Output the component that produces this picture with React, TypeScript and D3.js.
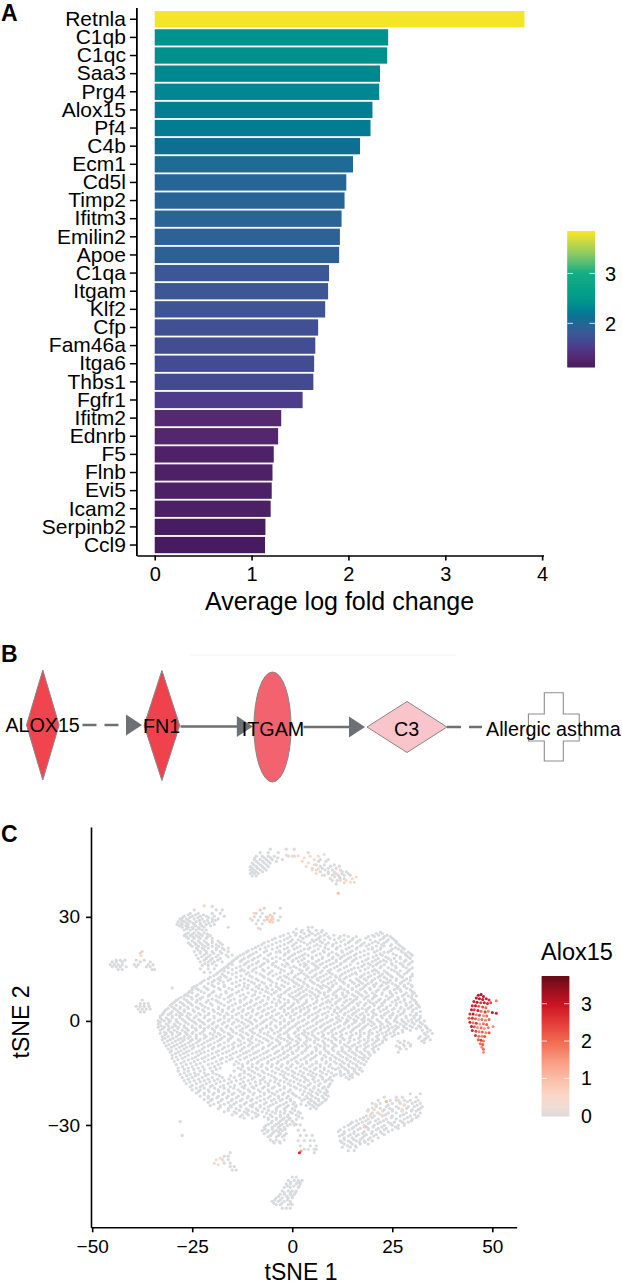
import React, { useEffect, useRef } from 'react';
import * as d3 from 'd3';

const WIDTH = 622;
const HEIGHT = 1285;
const FONT = '"Liberation Sans", Arial, sans-serif';

// panel A
const genes = ['Retnla', 'C1qb', 'C1qc', 'Saa3', 'Prg4', 'Alox15', 'Pf4', 'C4b', 'Ecm1', 'Cd5l', 'Timp2', 'Ifitm3', 'Emilin2', 'Apoe', 'C1qa', 'Itgam', 'Klf2', 'Cfp', 'Fam46a', 'Itga6', 'Thbs1', 'Fgfr1', 'Ifitm2', 'Ednrb', 'F5', 'Flnb', 'Evi5', 'Icam2', 'Serpinb2', 'Ccl9'];
const foldChange = [3.817, 2.41, 2.4, 2.326, 2.318, 2.248, 2.228, 2.12, 2.047, 1.978, 1.96, 1.929, 1.912, 1.904, 1.8, 1.79, 1.76, 1.687, 1.658, 1.646, 1.638, 1.527, 1.306, 1.274, 1.229, 1.216, 1.208, 1.197, 1.143, 1.139];
const fcTicks = [0, 1, 2, 3, 4];
const fcLegendTicks = [2, 3];
const fcColorDomain = [1.12, 1.3, 1.55, 1.65, 1.8, 1.9, 2.05, 2.12, 2.25, 2.4, 2.6, 3, 3.4, 3.85];
const fcColorRange = ['#461a5e', '#55286f', '#4c3e8e', '#434c92', '#3c5796', '#2d6196', '#1d6b96', '#0f6f92', '#007f93', '#00918f', '#03a08a', '#14ad84', '#8ecb62', '#fde725'];

// panel B
const pathwayNames = ['ALOX15', 'FN1', 'ITGAM', 'C3', 'Allergic asthma'];

// panel C, grey cells: [tSNE 2, tSNE 1, tSNE 1, ...] read row by row
const mainRows: number[][] = [
  [27, 4, 5],
  [26.1, 2.5, 4, 6, 7.5],
  [25.2, -1, 1, 3, 5, 6.5, 8.5, 21, 22.5],
  [24.3, -3, -0.5, 2, 3.5, 7, 9, 12, 14, 16, 19, 20.5, 23, 24.5],
  [23.4, -5, -2, 0, 1.5, 5, 6, 8, 10.5, 13, 15, 17, 19.5, 22, 24, 25.5],
  [22.5, -7, -4, -1, 1, 3, 4.5, 7.5, 9, 11, 14, 16, 18, 20, 21.5, 23, 26],
  [21.6, -8.5, -6, -3, 0, 2, 5.5, 7, 10, 12, 15, 17, 18.5, 21, 23, 24.5, 27],
  [20.7, -10, -8, -5, -2, 0.5, 3, 4, 6.5, 9, 11, 13.5, 16, 19, 20, 22, 25, 26.5, 28],
  [19.8, -11.5, -9, -7, -4, -3, -1, 1.5, 5, 8, 10, 12.5, 14.5, 17, 20.5, 23, 24, 27.5, 29],
  [18.9, -13, -10.5, -8, -6, -2, 0, 2.5, 4, 6, 9, 11.5, 13, 15.5, 18, 21, 22.5, 26, 28.5, 30],
  [18, -14, -12, -9.5, -7, -5, -3, -1, 1, 3, 5, 7.5, 10, 12, 14, 16, 19, 21.5, 24, 25.5, 27, 29.5],
  [17.1, -15, -13, -11, -8.5, -6, -4, 0, 1.5, 4, 6, 8.5, 11, 13, 15, 17.5, 20, 22, 23.5, 26, 28, 30],
  [16.2, -16, -15, -12, -10, -7.5, -5, -2.5, -1, 2, 3.5, 5.5, 7, 9.5, 12, 14.5, 18, 19.5, 21, 23, 25, 27.5, 29],
  [15.3, -17, -16, -14, -11, -9, -6, -3.5, -0.5, 1, 4, 6.5, 8, 10.5, 13, 15.5, 16.5, 19, 22, 24, 26, 28.5, 30],
  [14.4, -18, -17, -13, -12, -10, -7, -5, -2, 0, 2.5, 5, 7.5, 9, 11.5, 14, 17, 20, 21, 23, 25.5, 27, 29],
  [13.5, -19, -17.5, -15, -11.5, -8, -6, -4, -1, 1.5, 3, 6, 8.5, 10, 12.5, 15, 16, 18, 20.5, 22.5, 24, 26.5, 28, 30],
  [12.6, -20.5, -18, -16.5, -14, -10, -7, -3, -1.5, 0.5, 4, 5, 7, 9.5, 11, 13.5, 17, 19, 21.5, 23, 25, 27.5, 29.5],
  [11.7, -22, -19.5, -18, -16, -13, -11, -8.5, -5.5, -2.5, 0, 2, 4.5, 6.5, 8, 10.5, 12, 14.5, 16.5, 18.5, 20, 22, 24.5, 26, 28, 29.5],
  [10.8, -23, -21, -18.5, -15, -12, -9.5, -7, -4, -1, 1, 3, 5.5, 9, 11, 13, 15.5, 17.5, 19, 21, 23.5, 25, 27, 29],
  [9.9, -24.5, -22, -19.5, -17, -14, -12, -9, -6.5, -4, -2, 0.5, 2.5, 4, 7, 8.5, 10, 12, 14, 16, 18, 20.5, 22, 24, 26.5, 28, 30],
  [9, -25, -23.5, -21, -18, -15, -12.5, -10, -7.5, -5, -3, -1, 1.5, 3.5, 6, 9.5, 11.5, 13, 15, 17, 19.5, 21.5, 23, 25.5, 27, 29.5],
  [8.1, -26, -25, -22, -20, -16.5, -14, -11, -8, -6, -4.5, -2, 0, 2, 5, 7, 8, 10.5, 12.5, 14, 16.5, 18.5, 20, 22.5, 24.5, 26, 28.5, 30.5],
  [7.2, -27, -26, -24, -21, -19, -15.5, -13, -10, -7, -3.5, -0.5, 1, 3, 4.5, 6.5, 9, 11, 13.5, 15.5, 17.5, 19, 21, 23.5, 25, 27.5, 29, 31],
  [6.3, -28.5, -27, -25, -23, -20, -17, -14.5, -12, -9, -6, -4.5, -2, 0.5, 2, 5, 7.5, 10, 12, 14.5, 16, 18, 20, 22, 24, 26.5, 28, 30],
  [5.4, -29.5, -28, -26, -24, -21.5, -18.5, -16, -13, -10.5, -8, -5, -3, -1, 1.5, 3.5, 6, 8.5, 9.5, 11, 13, 15, 17, 19.5, 21, 23, 25, 27, 29.5, 31],
  [4.5, -30.5, -29, -27, -25, -22.5, -20, -17, -15, -12, -9.5, -7, -4, -2, 0, 2.5, 4.5, 7, 10, 12.5, 14, 16.5, 18, 20.5, 22.5, 24.5, 26, 28.5, 30, 31.5],
  [3.6, -31, -29.5, -28, -26, -23.5, -21, -18.5, -16, -13.5, -11, -8.5, -6, -3, -1, 1, 3, 5.5, 8, 9.5, 11.5, 13, 15.5, 17.5, 19, 21.5, 23.5, 25.5, 27, 29, 31],
  [2.7, -32, -30, -28.5, -27, -24.5, -22, -19.5, -17.5, -15, -12.5, -10, -7.5, -5, -2, 0, 2, 4, 6.5, 9, 10.5, 12, 14, 16, 18.5, 20, 22, 24, 26.5, 28, 30, 32],
  [1.8, -32.5, -31, -29, -27.5, -25.5, -23, -21, -18, -16, -14, -11.5, -9, -6.5, -4, -1.5, 0.5, 3, 5, 7.5, 10, 13, 15, 17, 19, 21, 23, 25, 27, 29.5, 31],
  [0.9, -33, -31.5, -30, -28, -26, -24.5, -22, -19.5, -17, -15, -12.5, -10.5, -8, -5.5, -3, -0.5, 1.5, 4, 6, 8.5, 11, 12.5, 14.5, 16.5, 18, 20, 22.5, 24.5, 26, 28.5, 30.5, 32],
  [0, -33.5, -32, -30.5, -29, -27, -25, -23, -21, -18.5, -16, -13.5, -11, -9, -7, -4, -2, 0, 2.5, 5, 7, 9.5, 12, 14, 16, 18, 19.5, 21.5, 23.5, 25.5, 27.5, 29, 31, 33],
  [-0.9, -33.5, -31.5, -29.5, -28, -26, -24, -22, -20, -17.5, -15, -12, -10, -8, -5.5, -3, -1, 1, 3.5, 6, 8, 10.5, 13, 15, 17, 19, 20.5, 22.5, 24.5, 27, 28.5, 30.5, 32.5],
  [-1.8, -33.5, -32, -30, -28.5, -27, -25, -23, -21, -19, -16.5, -14, -11.5, -9, -6.5, -4, -2, 0, 2, 4.5, 7, 9, 11.5, 14, 16, 18, 21, 23, 25, 26.5, 28, 30, 32, 33.5],
  [-2.7, -33, -31, -29.5, -27.5, -26, -24, -22, -19.5, -17.5, -15, -13, -10.5, -8, -5, -3, -1, 1.5, 3, 5.5, 8, 10, 12.5, 15, 17, 19.5, 22, 24, 25.5, 27.5, 29.5, 32.5, 34.5],
  [-3.6, -33, -31.5, -30, -28, -26.5, -25, -23, -20.5, -18.5, -16, -14, -11.5, -9.5, -7, -4.5, -2, 0.5, 2.5, 4, 6.5, 9, 11, 13.5, 16, 18, 20, 22.5, 24.5, 26.5, 33, 35],
  [-4.5, -32.5, -31, -29, -27, -25.5, -24, -21.5, -19, -17, -15, -12.5, -10, -8, -5.5, -3.5, -1, 1, 3.5, 5.5, 7.5, 10, 12, 14.5, 17, 19, 21, 23, 25, 32, 34],
  [-5.4, -32.5, -30.5, -28.5, -27, -25, -23, -20.5, -18, -16, -13.5, -11, -9, -6.5, -4, -2, 0, 2, 4.5, 6.5, 9, 11, 13, 15.5, 18, 20, 21.5, 23.5, 33, 34.5],
  [-6.3, -32, -30, -28, -26, -24, -22, -19.5, -17, -14.5, -12, -10, -7.5, -5, -3, -0.5, 1.5, 3, 5.5, 8, 10, 12, 14, 16.5, 18.5, 20.5, 22.5, 27, 29, 33],
  [-7.2, -31.5, -29.5, -27.5, -25.5, -23.5, -21, -18.5, -16, -13.5, -11, -9, -6, -4, -1.5, 0.5, 2.5, 4.5, 7, 9, 11, 13.5, 15, 17, 19, 21, 26, 28, 29.5],
  [-8.1, -31, -29, -27, -25, -22.5, -20, -17.5, -15, -12.5, -10, -7.5, -5, -2.5, -0.5, 1.5, 3.5, 6, 8, 10, 12.5, 14.5, 16, 18, 20, 21.5, 27, 28.5],
  [-9, -30.5, -28.5, -26.5, -24, -22, -19, -16.5, -14, -11.5, -9, -6.5, -4, -2, 0, 2.5, 5, 7, 9, 11.5, 13, 15, 17, 19, 20.5, 26.5],
  [-9.9, -30, -28, -26, -23.5, -21, -18.5, -15.5, -13, -10.5, -8, -5.5, -3, -1, 1.5, 4, 6, 8, 10, 12, 14, 16, 18, 19.5],
  [-10.8, -30, -27.5, -25, -22.5, -20, -17.5, -15, -12, -9.5, -7, -4.5, -2, 0.5, 3, 5, 7.5, 9.5, 11, 13.5, 15.5, 17.5, 19],
  [-11.7, -29.5, -27, -24.5, -22, -19, -16.5, -14, -11, -8.5, -6, -3.5, -1, 1, 3.5, 6, 8.5, 10.5, 12.5, 14.5, 16.5, 18.5],
  [-12.6, -29, -26.5, -24, -21, -18.5, -14.5, -12.5, -10, -7.5, -5, -2.5, 0, 2.5, 5, 7, 9.5, 12, 14, 16, 18],
  [-13.6, -28.5, -26, -23.5, -20.5, -18, -13.5, -11, -9, -6.5, -4, -1.5, 1, 3, 6, 8, 10, 11.5, 13, 15, 17],
  [-14.5, -28.5, -26, -23, -20, -14.5, -12, -10, -7.5, -5, -2.5, 0, 2, 4.5, 7, 9, 12, 14, 15.5, 17.5],
  [-15.4, -28, -25.5, -23.5, -21, -19, -13, -11, -8.5, -6, -3, -1, 1.5, 4, 6, 8.5, 11, 13, 15, 16.5],
  [-16.3, -27.5, -25, -22.5, -20, -17.5, -14.5, -12, -9.5, -7, -4.5, -2, 0.5, 3, 5.5, 7.5, 9.5, 13.5, 15],
  [-17.2, -27, -24.5, -22, -19.5, -17, -14, -11, -8, -5.5, -3, -0.5, 2, 4, 6.5, 8.5, 10],
  [-18.1, -26.5, -24, -21.5, -19, -16, -13, -10.5, -8, -6, -3.5, -1, 1.5, 4.5, 7, 9.5],
  [-19, -25.5, -23, -20.5, -18, -15.5, -12.5, -10, -7, -4.5, -2, 0.5, 3, 5.5, 8, 9],
  [-19.9, -25, -23, -21, -18.5, -16, -13.5, -11, -8.5, -6, -3, -0.5, 2, 4.5, 6.5, 8.5],
  [-20.8, -24, -22, -19.5, -17, -14.5, -12, -9.5, -7, -5, -2, 0, 4, 6, 8],
  [-21.7, -23, -21, -18.5, -16, -13.5, -11, -8, -5.5, -3.5, -1, 1, 3.5, 5, 7.5, 9],
  [-22.6, -22, -20, -17.5, -15, -12.5, -10, -7, -4.5, -2.5, -0.5, 3, 4.5, 6.5, 8.5],
  [-23.5, -21, -18.5, -16, -14, -11.5, -9, -6.5, -4, -1.5, 0.5, 4, 5.5, 7.5],
  [-24.4, -20.5, -18, -15.5, -13, -10.5, -8, -5.5, -3, -1, 1, 3.5, 5, 6.5],
  [-25.3, -18.5, -16, -14, -11.5, -9, -7, -4, -2, 0, 4.5, 6],
  [-26.2, -17, -14.5, -12, -10, -7.5, -5, -3, -0.5, 1.5],
  [-27.1, -15, -12.5, -11, -8.5, -5.5, -3, -1, 1],
  [-28, -12, -10, -6, -4, -2, -0.5, 2.5],
  [-28.9, -5, -3, -1.5, 0],
  [-29.8, -6, -4, -2.5, -0.5, 1],
  [-30.7, -7, -5, -3.5, -2],
  [-31.6, -7.5, -6, -4, -2.5],
  [-32.5, -7, -5, -3, -1.5],
  [-33.4, -6, -4, -2.5],
  [-34.3, -5.5, -4, -2],
  [-35.2, -4.5, -3],
];

// second pass over the same blob, cells lying between the rows above
const mainRowsFill: number[][] = [
  [25.6, 0.3, 2.2, 4.4, 7.3, 22],
  [24.7, -2.2, 0.8, 4.2, 5.8, 8, 10.4, 13, 20, 21.6, 23.7],
  [23.8, -4.3, -1.2, 2.7, 6.6, 9.4, 11.6, 15.2, 18.4, 22.7, 25],
  [22.9, -6, -3, -0.4, 2.2, 5.4, 7, 12.2, 14.4, 16.4, 20.8, 23.6, 26],
  [22, -7.6, -5, -2, 0.4, 3.8, 6.2, 8.4, 10.2, 13.2, 17.4, 19.2, 22.4, 24.8, 26.6],
  [21.1, -9.2, -6.8, -3.8, -1.2, 1.2, 4.4, 8.2, 11.2, 14.2, 16.2, 20, 22.2, 25.8, 27.6],
  [20.2, -11, -6.4, -3.2, -0.8, 2.2, 5.6, 7.8, 12.4, 15, 18, 21.2, 24.6, 27.2],
  [19.3, -12.2, -9.8, -5.4, -1.8, 0.6, 3.2, 7, 9.2, 11, 13.8, 16, 19, 22, 25.2, 28.2, 29.6],
  [18.4, -13.6, -11, -8.6, -4, -0.6, 1.8, 5, 7.6, 10.2, 12.4, 14.6, 17, 20.2, 23.4, 27, 29],
  [17.5, -14.6, -12.6, -10, -6.2, -2, 0.2, 2.4, 6.6, 9.2, 11, 13.4, 15.4, 18.4, 20.8, 22.8, 24.6, 28.4],
  [16.6, -15.6, -11.6, -9, -7, -4.8, -1.4, 3, 5, 7.6, 10.2, 12.2, 16.4, 19, 21.4, 24.8, 27, 29.4],
  [15.7, -16.4, -13, -10.8, -8, -4.2, -1.8, 0.4, 3, 6, 8.6, 11.2, 13.6, 17.4, 20.2, 22.2, 25.8, 27.8],
  [14.8, -17.6, -15, -12.6, -9.6, -7.4, -2.8, 1.8, 3.6, 5.8, 9.6, 12, 14.8, 18.2, 20.6, 24.8, 29.4],
  [13.9, -18.6, -16, -14, -11, -9, -5.6, -3, -0.2, 2.2, 4.4, 7, 9.4, 13.2, 15.8, 19, 21.6, 23.6, 26.2, 28.6],
  [13, -19.6, -17, -12.8, -10.6, -7.4, -4.8, -2, 0.8, 3.6, 5.6, 7.8, 10.8, 12, 14.4, 17.4, 19.6, 22, 24.6, 27, 30],
  [12.1, -21, -18.6, -15.4, -12, -9, -6, -3.6, -0.8, 1.4, 3.2, 6.2, 8.8, 11.8, 13, 16, 18, 20.6, 23.6, 26, 28.6],
  [11.2, -22.6, -20, -17.2, -14, -10.2, -7.6, -5, -1.8, 0.4, 2.8, 5, 7.4, 9.8, 12.6, 15, 17, 19.8, 22.8, 24, 27.4],
  [10.3, -23.8, -20, -17, -13.2, -11, -8.2, -5.4, -2.6, 1.6, 3.8, 6.4, 7.8, 10.2, 14, 16.6, 18.4, 20.4, 22.4, 25.8, 28, 29.8],
  [9.4, -24, -21.4, -18.4, -15.8, -11.2, -8.4, -6.2, -3.4, -0.6, 2.2, 5, 7.4, 9.2, 12.2, 15, 17.6, 19.4, 23.6, 26.2, 28.6],
  [8.5, -25.6, -22.8, -19.6, -16.6, -13.4, -9.2, -6.6, -4, -1.6, 0.8, 2.8, 4.4, 6.6, 9, 11, 13.8, 16, 18.2, 21, 24.4, 27.2, 30],
  [7.6, -26.6, -23.6, -20.6, -17.8, -15, -12.2, -9.4, -5.2, -2.8, -0.8, 1.6, 3.6, 5.6, 8, 10.2, 12.6, 15, 17, 20.6, 22.4, 25, 28, 30],
  [6.8, -27.8, -25.2, -22.4, -18.2, -16, -11.6, -8.4, -6, -3, 0.2, 2.4, 6, 8.4, 11, 13, 16.2, 18.4, 20.4, 24.4, 26.4, 29.8],
  [5.9, -29, -26.4, -23.8, -21, -19, -15.4, -13, -10.2, -7.4, -3.4, -1, 1.2, 3.6, 6.2, 9, 11.6, 13.6, 15.4, 19, 21.6, 23.2, 25.8, 28, 30.6],
  [5, -30, -27.4, -25.4, -23, -20.4, -17.8, -14.2, -11.4, -9, -6.4, -4, -1.8, 0.4, 3, 5.4, 7.6, 10.8, 14.4, 16.2, 18.4, 20.2, 22.4, 26, 28.4, 31],
  [4, -30, -28, -26.2, -24, -21.8, -18.4, -15.8, -13, -10.4, -8, -5.2, -2.6, -0.4, 1.8, 3.8, 6, 8.8, 11.2, 13.4, 15.4, 19.4, 21.8, 23.6, 27.2, 29.6, 31.8],
  [3.2, -31.6, -29, -27, -24.8, -22.4, -19.8, -17.4, -14.6, -12.2, -9.8, -7, -4.4, -2, 0.2, 2.2, 4.2, 7, 10.6, 12.4, 14.8, 16.6, 18.4, 20.4, 22.8, 25, 28, 30.2],
  [2.2, -32.2, -30.4, -28, -26, -23.4, -20.8, -18.6, -16.4, -13.4, -11, -8.6, -6, -3.4, -1, 1, 3.4, 5.8, 8.2, 11.2, 13.2, 15.4, 17.6, 20.4, 23.4, 25.2, 27.6, 31],
  [1.4, -33, -30, -28.2, -26.4, -24, -21.8, -19.6, -17, -15, -12.6, -10.2, -7.6, -5, -2.6, -0.4, 2, 4.2, 6.4, 8.8, 11.6, 14, 16, 18, 20.2, 22.2, 24.4, 26.2, 28.4, 30.4, 32],
  [0.4, -32.6, -31, -29, -27.4, -25.6, -23.4, -20.6, -18, -15.8, -14, -11.6, -9.4, -6.4, -4.6, -2, 0.4, 3, 5.4, 7.6, 10, 11.6, 13.6, 15.4, 17.4, 19, 21.2, 23.6, 25.8, 27.4, 29.8, 31.6],
  [-0.4, -33, -30.8, -28.6, -26.6, -24.4, -22.4, -19.6, -17, -14.6, -12.6, -10.4, -7.4, -5.2, -3, -0.8, 1.6, 4, 6.2, 8.8, 11.2, 13.4, 15.6, 17.8, 20, 22, 24, 26.2, 28, 30, 32],
  [-1.4, -32.8, -31, -29.2, -27, -25, -23, -20.8, -18.6, -16.2, -13.2, -11, -8.8, -6.4, -4.2, -1.8, 0.6, 2.8, 5.2, 7.4, 9.6, 12, 14.2, 16.6, 18.4, 19.8, 22, 23.8, 25.8, 27.8, 29.4, 31.6, 33.2],
  [-2.2, -32.4, -30.8, -28.6, -26.4, -24.2, -22, -20, -17.8, -15.4, -12.4, -9.8, -7.4, -5.4, -2.8, -0.6, 1.4, 3.8, 6, 8.4, 10.6, 13, 15.4, 17.6, 20.4, 22.2, 24.2, 26, 28.6, 31, 33.8],
  [-3.2, -32, -30.4, -28.8, -26.8, -24.8, -22.4, -19.4, -17, -14.8, -12.4, -10, -8, -6, -3.6, -1.4, 0.8, 3.2, 5, 7.4, 9.8, 12, 14.6, 17, 19.2, 21.2, 23.4, 25.4, 27.6, 33.8],
  [-4, -31.8, -30, -28.4, -26.2, -24, -22, -19.8, -18, -15.6, -13, -11, -8.6, -6.2, -3, -1, 1.6, 3, 5, 7.8, 10.2, 12.4, 15, 17, 19.2, 21.6, 23.6, 25.6, 33.4],
  [-5, -31.8, -29.8, -27.8, -26, -24, -22, -19.8, -17.6, -15.4, -12.2, -10.2, -7.2, -5, -2.8, -0.6, 1.6, 3.8, 6, 8.2, 10.6, 12.6, 14.4, 16.6, 19, 21.4, 23, 31.6, 33.4],
  [-5.8, -31.2, -29.2, -27.4, -25.4, -23.4, -21.2, -18.6, -16, -13, -10.6, -8.2, -6, -3.6, -1.2, 1, 3.6, 5.6, 7.6, 9.8, 12, 14.4, 17, 19, 21, 22.6, 26.4, 28, 32.4],
  [-6.8, -30.8, -28.8, -26.8, -24.8, -22.6, -20.4, -18, -15, -12.8, -10.6, -8.4, -5.6, -3.2, -1, 1.2, 3.4, 6.4, 8.2, 10.6, 13, 15.6, 18, 20, 21.8, 27.8, 29.6],
  [-7.6, -30.2, -28.2, -26.4, -24.6, -22, -19.6, -17, -14.6, -12, -9.8, -7.2, -4.6, -2.4, -0.4, 1.6, 3.8, 5.8, 8, 10.2, 12.4, 14.2, 16.2, 18.4, 20.4, 26.8],
  [-8.6, -30.2, -27.8, -25.8, -23.2, -21, -18.4, -15.8, -13, -10.8, -8.4, -6, -3.4, -1.2, 1, 3.2, 6, 8.4, 10.4, 12.4, 14.2, 16.2, 18.2, 20.4],
  [-9.4, -29.2, -27.2, -25, -22.8, -20, -17.4, -14.8, -12.2, -9.6, -7.2, -4.4, -2.2, 0.2, 2.4, 4.8, 7, 9.2, 11.4, 13.4, 15.6, 17.4, 19.2],
  [-10.4, -29, -26.8, -24.2, -21.8, -19.4, -16.4, -13.6, -11.4, -8.8, -6.2, -3.6, -1.4, 1, 3.4, 5.6, 8.4, 10.6, 12.6, 14.6, 16.8, 18.2],
  [-11.2, -28.6, -26, -23.6, -21, -18, -15.6, -13, -10.2, -7.8, -5.2, -2.8, -0.2, 2.2, 4.6, 7.4, 9.6, 11.8, 13.8, 15.8, 17.8],
  [-12.2, -27.8, -25.4, -23, -20, -17.6, -13.4, -11.2, -8.8, -6.2, -3.8, -1.2, 1.4, 3.6, 6, 8.4, 11, 13, 15.2, 17.2],
  [-13.2, -27.4, -25, -22.4, -19.4, -12.4, -10, -7.8, -5.2, -2.8, -0.4, 2, 4.4, 7, 9.2, 12.4, 14.2, 16.2],
  [-14, -27, -24.6, -22, -19, -12.8, -10.8, -8.6, -6.2, -3.4, -1, 3.6, 5.6, 8, 10.8, 13.4, 15.6, 16.8],
  [-15, -27, -24.4, -22, -19.8, -12, -9.4, -7, -4.2, -1.8, 0.6, 2.8, 5.2, 7.6, 9.8, 12, 14, 16],
  [-15.8, -26.4, -24.2, -21.6, -18.2, -15.4, -13.2, -10.4, -8, -5.2, -2.2, 0, 2.4, 4.8, 7, 10.4, 12.2, 14.4],
  [-16.8, -26, -23.4, -21, -18.6, -15.8, -12.8, -10, -7.4, -4, -1.4, 1.2, 3.4, 5.2, 7.6, 9.2, 14.2],
  [-17.6, -25.6, -23, -20.6, -18, -15.2, -12.2, -9.2, -6.8, -4.4, -2, 0.4, 3, 5.6, 8.2],
  [-18.6, -25, -22.4, -20, -17.2, -14.4, -11.8, -9, -6, -3.2, -0.4, 2.2, 4, 6.6, 9.2],
  [-19.4, -24, -22, -19.4, -17, -14.6, -12, -9.6, -7.4, -5, -2, 1, 3.4, 5.4, 7.6],
  [-20.4, -23.4, -20.8, -18.4, -15.8, -13, -10.6, -8, -5.8, -3.8, -1, 3, 5, 7, 8.8],
  [-21.2, -22, -19.8, -17.4, -15, -12.4, -9.8, -7, -4.4, -2.4, 0.4, 2.6, 4.6, 6.4, 8.4],
  [-22.2, -21, -18.8, -16.4, -14, -11.2, -8.8, -6, -3.4, -1.4, 1.8, 3.8, 5.8, 7.8],
  [-23, -20.4, -17.8, -15.2, -13, -10.4, -8, -5.2, -3, -0.4, 2.4, 4.8, 6.6, 8.2],
  [-24, -19.6, -17, -14.6, -12, -9.8, -7, -4.8, -2.2, 0.2, 2.2, 4.4, 6, 7],
  [-24.8, -18, -15.2, -12.8, -10, -8, -6, -3.6, -1.4, 0.8, 5.4],
  [-25.8, -16, -13.2, -11, -8.6, -6, -4, -1.8, 0.6],
  [-26.6, -14, -11.4, -9.2, -6.4, -4.2, -2, 0, 2],
  [-27.6, -13, -9, -7, -5, -3, -1.2, 1.6],
  [-28.4, -6, -4, -2.4, -0.8, 1],
  [-29.4, -5.2, -3.4, -1.6, 0.4],
  [-30.2, -6.6, -4.4, -3, -1.2],
  [-31.2, -6.8, -5, -3, -1.8],
  [-32, -6.2, -4.6, -3.4],
  [-33, -5.4, -3.4, -2],
  [-34.8, -4.8, -3.2],
];

const upperLeftRows: number[][] = [
  [33, -20],
  [32, -24.5, -19, -17.5],
  [31, -25.5, -23.5, -20, -18],
  [30.2, -27, -25, -23, -21.5, -19.5, -17],
  [29.4, -28, -26.5, -24.5, -22.5, -20, -18.5],
  [28.6, -28.5, -27, -25.5, -24, -22, -20],
  [27.8, -28.8, -27.5, -26, -24.5, -23, -21.5, -19.5],
  [27, -27.5, -26, -25, -23.5, -22, -16],
  [26.2, -27, -25.5, -24, -22.5, -21.5],
  [25.4, -26, -24.5, -23.5, -22],
  [24.6, -27, -25.5, -24, -22.5, -20.5],
  [23.8, -26, -24.5, -23, -21.5, -20],
  [23, -25, -23.5, -22, -20, -18.5],
  [22, -25.5, -24, -22.5, -21, -19, -17.5],
  [21, -24, -22.5, -21, -19, -17.5, -16],
  [20, -24.5, -23, -21.5, -20, -18, -16],
  [19, -24, -22, -20.5, -18.5, -16.5, -15],
  [18, -23.5, -21.5, -20, -18],
  [17, -23, -21, -19.5, -17.5],
  [16, -22.5, -21, -19],
  [15, -23, -21, -19.5],
  [14, -22, -20.5],
  [30.6, -26, -24.2, -22.2],
  [29.8, -27.4, -25.6, -23.6, -21],
  [29, -27.6, -26, -23.2, -21.2, -19.2],
  [28.2, -27.8, -26.4, -24.8, -23, -20.8],
  [27.4, -28.2, -26.6, -24.2, -22.6, -20.4],
  [26.6, -26.4, -24.8, -23.2],
  [25, -26.6, -25, -23, -21.2],
  [24.2, -26.4, -24.8, -23.4, -21.2],
  [22.5, -26, -24.4, -23, -21.4, -20, -18],
  [21.5, -25, -23.4, -21.8, -20, -18.4],
  [20.5, -23.6, -22, -19, -17],
  [19.5, -23, -21.4, -19.6, -17.6],
  [18.5, -22.6, -21, -19, -16],
  [17.5, -22, -20.4, -18.6],
  [16.5, -21.8, -20],
];

const smallClusterRows: number[][] = [
  // far left groups
  [19.5, -38],
  [17.5, -44, -43, -41.8, -39, -37],
  [17, -45, -44, -42.5, -38, -35.5],
  [16.2, -45.5, -44.5, -43.5, -42.5, -39.5, -38.5, -36, -34.8],
  [15.6, -45, -44, -43, -41.5, -39, -36.5, -35.5],
  [14.8, -43.5, -42.5, -35, -34.4],
  [6, -37.5],
  [5, -38, -37, -36],
  [4.2, -39, -38, -37, -35.8],
  [3.4, -38.5, -37.5, -36.5, -35.5],
  [2.6, -38, -37],
  [9.5, -30, -25],
  [6.5, -23],
  // upper arc, left part
  [49.5, -5.5, -1.5, 0.5],
  [48.5, -8, -6, -3.5, 4],
  [47.5, -9, -7.5, -6, -4.5, -1, 0.5],
  [46.5, -9.5, -8, -6.5, -5, -2.5],
  [45.5, -10, -8.5, -7, -5.5],
  [44.5, -10.5, -9, -7.5, -6],
  [43.5, -10.5, -9.5, -8, -6.5],
  [42.5, -10.5, -9.5, -8.5],
  [41.8, -10, -9],
  [47, -9.4, -7, -5.4, -3.6],
  [46, -9, -7.4, -6, -4],
  [45, -9.6, -8, -6.4],
  [44, -10, -8.6, -7],
  [43, -10, -9, -7.4],
  // upper arc, right part
  [46.5, 7, 9],
  [45, 6, 8, 10.5],
  [44, 5, 7.5, 9, 11],
  [43, 7, 9, 10.5, 12.5, 13.5],
  [42, 8, 10, 11.5, 13, 14.5],
  [41, 9.5, 12, 13],
  [39.5, 11],
  [46, 6.6, 8.4],
  [44.6, 7, 9.6, 11.8],
  [43.5, 6, 8.2, 10, 12],
  [42.5, 9, 10.6, 12.4, 14],
  [41.5, 10.6, 11.8],
  [40.5, 10, 11.2],
  // group above the blob
  [32.5, -7, -3],
  [31, -9, -7.5, -4.5],
  [30, -9.5, -8, -6.5, -3],
  [29, -10, -8.5, -7, -3.5],
  [28, -9, -7.5],
  [26.5, -8, 1],
  // stray cells under the blob
  [-29, -28],
  [-33, -27.5],
  // group next to the stem
  [-30, 0.5, 2],
  [-31.5, 1.5, 3],
  [-33, 2, 3.5, 5],
  [-34.5, 1.5, 3, 4.5, 5.5],
  [-36, 2, 4.5, 6],
  [-37, 3, 4, 5.5, 6],
  [-38, 5.5],
  // small group lower left
  [-38, -15.5],
  [-39, -17, -16],
  [-40, -17.5, -16],
  [-41, -17, -15.5],
  [-42, -15.5, -14.5],
  [-43, -15, -14],
  // bottom cluster
  [-45, 0, 1],
  [-46, -1, 0.5, 1.5, 2.5],
  [-47, -1.5, -0.5, 1, 2],
  [-48, -2, -0.5, 1.5],
  [-49, -2.5, -1, 0, 1],
  [-50, -3, -2, -0.5, 0.5],
  [-51, -4, -2.5, -1, 0],
  [-52, -5, -3.5, -2, -0.5],
  [-53, -4, -3, -1, 0],
  [-54, -2.5, -1.5, -0.5],
  [-46.5, -0.4, 1.4, 2],
  [-47.6, -1.2, 0.4, 1.8],
  [-49.5, -2, -0.4, 0.8],
  [-50.6, -3.4, -1.4, 0],
  [-51.6, -4.4, -3, -1.2],
  [-52.6, -4.6, -2.6, -0.4],
];

const lowerClusterRows: number[][] = [
  [-21, 29.5, 32],
  [-22, 23, 26, 27.5, 31],
  [-22.9, 21.5, 24.5, 26, 28, 29.5, 31.5],
  [-23.8, 20, 22, 25, 27, 30, 32],
  [-24.7, 21, 23.5, 26, 29, 30.5, 32.5],
  [-25.6, 19, 20.5, 23, 25, 27.5, 30, 31.5],
  [-26.5, 20, 21.5, 24, 26, 28.5, 32],
  [-27.4, 18.5, 20.5, 22.5, 25, 27, 29.5, 31.5],
  [-28.3, 17, 19, 21.5, 23.5, 26, 28, 30],
  [-29.2, 15, 17.5, 19.5, 22, 24, 25.5, 27.5, 29],
  [-30.1, 14, 16, 18, 20.5, 23, 25, 26.5, 28],
  [-31, 15, 17, 19, 21.5, 23.5, 26.5],
  [-31.9, 11.5, 13, 15.5, 18, 20, 22, 24],
  [-32.8, 12.5, 14.5, 16.5, 18.5, 21, 23],
  [-33.7, 13, 15, 17.5, 19.5, 21.5],
  [-34.6, 12, 14, 16, 18, 20],
  [-35.5, 13, 15, 17, 19],
  [-36.4, 12.5, 14.5, 16],
  [-37.4, 14, 15.5],
  [-23.3, 23.6, 26.8, 28.8, 30.8],
  [-24.3, 21, 24, 28, 31.2],
  [-25.2, 22, 24.4, 26.6, 28.6, 32],
  [-26, 18.8, 22.6, 25, 27.4, 29.8, 31],
  [-27, 19.6, 23.4, 27.8, 30.6],
  [-27.9, 17.8, 20, 24.8, 28.8, 31],
  [-28.8, 16, 18.4, 20.8, 22.8, 27, 29.8],
  [-29.6, 14.6, 16.6, 19, 21.4, 24.6, 28],
  [-30.6, 13, 15.4, 18, 20.2, 22.4, 25.8],
  [-31.4, 12, 14.2, 16.4, 19, 21, 23, 25],
  [-32.4, 13, 15.4, 17.6, 19.8, 22.4],
  [-33.2, 11.8, 14, 16, 18, 20.4],
  [-34.2, 13, 15.4, 17, 19],
  [-35, 12.4, 14.6, 16.8, 18.2],
  [-36, 13.8, 15.8],
];

// panel C, expressing cells: x, y, Alox15
const pinkCells: number[][] = [
  [-6, 30, 0.7], [-5.5, 30.5, 0.8], [-5, 30, 0.8], [-6.2, 29.2, 0.9], [-5.3, 29.2, 0.8], [-4.8, 29.4, 0.7], [-5.6, 28.6, 0.8], [-4.9, 28.5, 0.7],
  [-9.5, 31, 0.7], [-8, 32, 0.9], [-10.5, 29.5, 0.6], [-8.5, 26.8, 0.7], [-22, 33.2, 0.7],
  [-1.5, 47.8, 0.5], [0, 47.5, 0.6], [1.5, 47.6, 0.5], [3, 47, 0.5], [4.5, 47.5, 0.6], [5.5, 46.5, 0.5], [6.5, 47.5, 0.5], [8, 48, 0.5],
  [2.5, 46, 0.5], [4, 45.5, 0.5], [5.5, 45, 0.6], [3.5, 44.5, 0.5], [5, 43.5, 0.5], [6.5, 43.8, 0.5], [6, 42.5, 0.6], [7.5, 42, 0.5],
  [11, 42.5, 0.5], [12, 40.5, 0.6], [13.5, 40.5, 0.5], [14.5, 40, 0.6], [15.5, 40, 0.5], [15, 41, 0.6], [16, 41.5, 0.5], [13, 39.8, 0.7], [11.5, 36.8, 1.1],
  [-37.5, 20, 0.7], [-37.8, 18.8, 0.5],
  [-19.5, -41, 0.5], [-19, -40, 0.6], [-18.5, -41.5, 0.5], [-18, -39.5, 0.5], [-17.3, -40.2, 0.5],
  [1.8, -38, 2.8], [2.2, -37.5, 1.5],
  [19, -26, 0.4], [20, -25, 0.5], [20.8, -24, 0.4], [21.2, -26.5, 0.4], [22, -27, 0.4], [19.5, -27.5, 0.5], [23.5, -23.2, 1.1], [18.5, -30.5, 0.9], [26.5, -22.8, 0.5], [28, -24, 0.4], [23, -27.2, 0.4], [27.5, -26, 0.4],
];

const aloxCells: number[][] = [
  [46.5, 7.4, 3.1], [47.2, 7.6, 3.2], [47.8, 7, 3], [46, 6.6, 3], [46.8, 6.4, 3.1], [47.6, 6.2, 3], [48.5, 6.4, 2.9], [49.2, 6, 2.7], [51, 5.8, 1.8],
  [45.4, 5.6, 2.9], [46.2, 5.4, 3], [47.1, 5.2, 2.6], [48, 5.2, 2.9], [48.8, 5, 2.8], [49.6, 5.2, 2.4],
  [45, 4.4, 2.8], [45.8, 4.4, 3], [46.6, 4.2, 2.2], [47.6, 4, 2.4], [48.4, 3.8, 2.1],
  [44.8, 3.2, 2.9], [45.5, 3.2, 2.5], [46.4, 3, 2.9], [47.2, 2.8, 2], [48.2, 2.6, 2.6], [49, 2.8, 1.8], [50, 2.4, 3], [51, 2.2, 2.9],
  [44.4, 2, 2.6], [45.2, 2, 3], [46, 1.8, 1.8], [46.8, 1.6, 2.4], [47.8, 1.5, 1.6], [48.6, 1.4, 2],
  [44.2, 0.8, 2.2], [45, 0.8, 2.7], [45.8, 0.6, 2.1], [46.6, 0.4, 1.5], [47.4, 0.4, 2], [48.3, 0.2, 1.7], [49.2, 0.4, 2.1],
  [44.4, -0.4, 2.8], [45.2, -0.5, 1.9], [46, -0.7, 2.6], [46.9, -0.9, 1.4], [47.8, -0.8, 1.9], [48.6, -1, 2.2],
  [44.8, -1.6, 2.9], [45.5, -1.7, 2.3], [46.3, -1.9, 1.6], [47.2, -2, 2], [48, -2.2, 1.5], [49, -2, 1.9], [50.2, -1.6, 1.6],
  [45, -2.8, 2.8], [45.9, -3, 2.4], [46.7, -3.1, 1.8], [47.5, -3.2, 2.1], [48.4, -3.4, 1.7], [49.2, -3.4, 2.2],
  [45.8, -4.2, 2.6], [46.6, -4.4, 2], [47.4, -4.4, 1.8], [48.1, -4.5, 2.3],
  [46.5, -5.4, 2.2], [47.2, -5.6, 2.5], [47.8, -5.8, 1.9],
  [47, -6.6, 2], [47.6, -6.8, 2.2], [47.4, -7.6, 1.7], [47.8, -8.2, 2], [47.8, -9, 1.6],
];

const exprTicks = [0, 1, 2, 3];
const exprColorDomain = [0, 0.25, 0.6, 1, 1.5, 2, 2.5, 3, 3.4, 3.75];
const exprColorRange = ['#d9dadc', '#f0dcd4', '#fbd5c6', '#fbbfa8', '#f99a80', '#f26c53', '#e53e3a', '#cb1422', '#98101f', '#680c18'];
const tsneXTicks = [-50, -25, 0, 25, 50];
const tsneYTicks = [-30, 0, 30];

const expandRows = (rows: number[][]) => rows.flatMap(([y, ...xs]) => xs.map(x => [x, y]));

export default function App() {
  const ref = useRef<SVGSVGElement>(null);

  useEffect(() => {
    const svg = d3.select(ref.current);
    svg.selectAll('*').remove();
    svg.style('font-family', FONT);

    const styleAxis = (g: any, size: number, width: number) => {
      g.selectAll('text').style('font-size', `${size}px`).style('font-family', FONT).attr('fill', '#000');
      g.selectAll('line').attr('stroke', '#000').attr('stroke-width', width);
      g.selectAll('path').attr('stroke', '#000').attr('stroke-width', width);
    };

    // A: bars
    const x = d3.scaleLinear().domain([-0.184, 4.014]).range([136.9, 543.5]);
    const y = d3.scaleBand().domain(genes).range([10.2, 554.1]).paddingInner(0.1).paddingOuter(0.05);
    const fcColor = d3.scaleLinear<string>().domain(fcColorDomain).range(fcColorRange);

    svg.append('g').selectAll('rect')
      .data(genes)
      .enter().append('rect')
      .attr('x', x(0))
      .attr('y', d => y(d)!)
      .attr('width', (_, i) => x(foldChange[i]) - x(0))
      .attr('height', y.bandwidth())
      .attr('fill', (_, i) => fcColor(foldChange[i]));

    const yAxisA = svg.append('g').attr('transform', 'translate(136.9,0)')
      .call(d3.axisLeft(y).tickSize(7).tickSizeOuter(0).tickPadding(4));
    styleAxis(yAxisA, 21, 1.5);
    yAxisA.select('path').remove();
    svg.append('line').attr('x1', 136.9).attr('x2', 136.9).attr('y1', 8).attr('y2', 556).attr('stroke', '#000').attr('stroke-width', 1.8);

    const xAxisA = svg.append('g').attr('transform', 'translate(0,555.5)')
      .call(d3.axisBottom(x).tickValues(fcTicks).tickFormat(d3.format('d') as any).tickSize(5).tickSizeOuter(0).tickPadding(6));
    styleAxis(xAxisA, 20, 1.6);

    svg.append('text').attr('x', 339.6).attr('y', 610).attr('text-anchor', 'middle')
      .style('font-size', '25px').text('Average log fold change');

    // A: colour bar
    const fcLegend = d3.scaleLinear().domain([1.12, 3.85]).range([367.3, 231]);
    svg.append('g').selectAll('rect')
      .data(d3.range(367, 231, -1))
      .enter().append('rect')
      .attr('x', 567.3).attr('width', 27.7)
      .attr('y', d => d - 1).attr('height', 1.5)
      .attr('fill', d => fcColor(fcLegend.invert(d)));
    const fcTickG = svg.append('g').selectAll('g').data(fcLegendTicks).enter().append('g')
      .attr('transform', d => `translate(0,${fcLegend(d)})`);
    fcTickG.append('line').attr('x1', 567.3).attr('x2', 573).attr('stroke', '#fff').attr('opacity', 0.8);
    fcTickG.append('line').attr('x1', 589.4).attr('x2', 595).attr('stroke', '#fff').attr('opacity', 0.8);
    fcTickG.append('text').attr('x', 605).attr('dy', '0.36em').style('font-size', '20px').text(d => d);

    // panel letters
    const letters: [string, number, number][] = [['A', 1, 21], ['B', 1, 662], ['C', 1, 842]];
    svg.append('g').selectAll('text').data(letters).enter().append('text')
      .attr('x', d => d[1]).attr('y', d => d[2])
      .style('font-size', '23px').style('font-weight', 'bold').text(d => d[0]);

    // B: pathway
    const pathway = svg.append('g');
    pathway.append('line').attr('x1', 190).attr('x2', 456).attr('y1', 655).attr('y2', 655).attr('stroke', '#f3f3f3');
    const linkColor = '#6d7175';
    const line = d3.line();
    const arrow = (x0: number, x1: number, yy: number, dashed: boolean, head: number | null) => {
      pathway.append('line').attr('x1', x0).attr('x2', x1).attr('y1', yy).attr('y2', yy)
        .attr('stroke', linkColor).attr('stroke-width', 2.6)
        .attr('stroke-dasharray', dashed ? '14 8' : null);
      if (head !== null) {
        pathway.append('path')
          .attr('d', line([[head, yy - 10.5], [head + 16, yy], [head, yy + 10.5]]))
          .attr('fill', linkColor);
      }
    };
    arrow(82.5, 126, 725, true, 126);
    arrow(180.5, 240, 726.5, false, 236.8);
    arrow(303.5, 349, 727, false, 349);
    arrow(447, 482, 727, true, null);

    const diamond = (cx: number, cy: number, rx: number, ry: number, fill: string) => {
      pathway.append('path')
        .attr('d', line([[cx - rx, cy], [cx, cy - ry], [cx + rx, cy], [cx, cy + ry]]) + 'Z')
        .attr('fill', fill).attr('stroke', '#8a8588').attr('stroke-width', 1);
    };
    diamond(42.8, 725, 16.3, 55, '#f0454f');
    diamond(161.9, 725.5, 17.8, 55, '#ef424d');
    pathway.append('ellipse').attr('cx', 272.5).attr('cy', 727).attr('rx', 18.6).attr('ry', 55)
      .attr('fill', '#f2636f').attr('stroke', '#8a8588');
    diamond(407, 727, 40, 25.5, '#f9c5cb');
    pathway.append('path')
      .attr('d', line([[544.3, 692.7], [563.3, 692.7], [563.3, 714], [579.2, 714], [579.2, 741], [563.3, 741], [563.3, 761], [544.3, 761], [544.3, 741], [528.4, 741], [528.4, 714], [544.3, 714]]) + 'Z')
      .attr('fill', 'none').attr('stroke', '#8e8e8e').attr('stroke-width', 1.1);

    const nameX = [42.6, 161.5, 273, 406.6, 553.4];
    const nameY = [732, 733, 736, 736, 736];
    pathway.selectAll('text').data(pathwayNames).enter().append('text')
      .attr('x', (_, i) => nameX[i]).attr('y', (_, i) => nameY[i])
      .attr('text-anchor', 'middle')
      .style('font-size', '19.7px')
      .text(d => d);

    // C: tSNE
    const tx = d3.scaleLinear().domain([-50.3, 56.1]).range([91, 516.7]);
    const ty = d3.scaleLinear().domain([-59.5, 55.9]).range([1227.3, 827]);
    const exprColor = d3.scaleLinear<string>().domain(exprColorDomain).range(exprColorRange);
    const grey = [mainRows, mainRowsFill, upperLeftRows, smallClusterRows, lowerClusterRows].flatMap(expandRows);

    svg.append('g').selectAll('circle').data(grey).enter().append('circle')
      .attr('cx', d => tx(d[0])).attr('cy', d => ty(d[1])).attr('r', 1.6)
      .attr('fill', exprColor(0));
    const coloured = [...pinkCells, ...aloxCells].sort((a, b) => a[2] - b[2]);
    svg.append('g').selectAll('circle').data(coloured).enter().append('circle')
      .attr('cx', d => tx(d[0])).attr('cy', d => ty(d[1])).attr('r', 1.5)
      .attr('fill', d => exprColor(d[2]));

    const xAxisC = svg.append('g').attr('transform', 'translate(0,1227.3)')
      .call(d3.axisBottom(tx).tickValues(tsneXTicks).tickSize(5).tickSizeOuter(0).tickPadding(7));
    styleAxis(xAxisC, 19, 1.6);
    const yAxisC = svg.append('g').attr('transform', 'translate(91,0)')
      .call(d3.axisLeft(ty).tickValues(tsneYTicks).tickSize(5).tickSizeOuter(0).tickPadding(6));
    styleAxis(yAxisC, 19, 1.6);

    svg.append('text').attr('x', 301).attr('y', 1280).attr('text-anchor', 'middle')
      .style('font-size', '23px').text('tSNE 1');
    svg.append('text').attr('transform', 'translate(29,1022) rotate(-90)').attr('text-anchor', 'middle')
      .style('font-size', '23px').text('tSNE 2');

    // C: legend
    svg.append('text').attr('x', 541).attr('y', 960).style('font-size', '23.5px').text('Alox15');
    const exprLegend = d3.scaleLinear().domain([0, 3.75]).range([1115.7, 975.7]);
    svg.append('g').selectAll('rect')
      .data(d3.range(1115, 975, -1))
      .enter().append('rect')
      .attr('x', 541.7).attr('width', 27.6)
      .attr('y', d => d).attr('height', 1.5)
      .attr('fill', d => exprColor(exprLegend.invert(d)));
    const exprTickG = svg.append('g').selectAll('g').data(exprTicks).enter().append('g')
      .attr('transform', d => `translate(0,${exprLegend(d)})`);
    exprTickG.filter(d => d > 0).append('line').attr('x1', 541.7).attr('x2', 547).attr('stroke', '#fff').attr('opacity', 0.8);
    exprTickG.filter(d => d > 0).append('line').attr('x1', 564).attr('x2', 569.3).attr('stroke', '#fff').attr('opacity', 0.8);
    exprTickG.append('text').attr('x', 581).attr('dy', '0.36em').style('font-size', '19.5px').text(d => d);
  }, []);

  return (
    <svg
      ref={ref}
      width={WIDTH}
      height={HEIGHT}
      style={{ position: 'absolute', left: 0, top: 0, display: 'block', background: '#fff' }}
    />
  );
}
